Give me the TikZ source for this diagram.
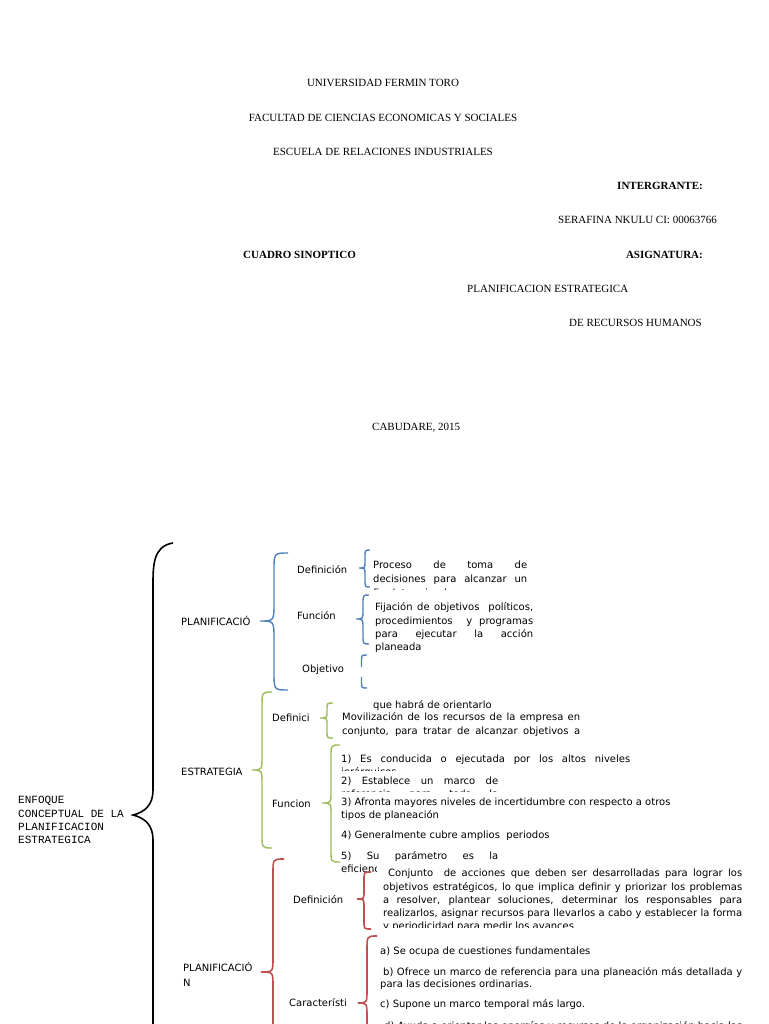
\documentclass[tikz,border=0pt]{standalone}
\usepackage{fontspec}
\setmainfont{Liberation Serif}
\newfontfamily\dvfont{DejaVu Sans}
\newfontfamily\monofont{Liberation Mono}
\definecolor{bblue}{HTML}{4F81BD}
\definecolor{ggreen}{HTML}{9BBB59}
\definecolor{rred}{HTML}{C0504D}
\newcommand\jline[2]{\makebox[#1pt][s]{#2}}
% #1 style, #2 x, #3 top, #4 tipx, #5 tipy, #6 bottom, #7 hook dx, #8 hook dy
\newcommand\mybrace[8]{\draw[#1] ({#2+#7},#3) .. controls (#2,#3) .. (#2,{#3+#8}) -- (#2,{#5-#8}) .. controls (#2,#5) .. (#4,#5) .. controls (#2,#5) .. (#2,{#5+#8}) -- (#2,{#6-#8}) .. controls (#2,#6) .. ({#2+#7},#6);}
\tikzset{
  hdr/.style={inner sep=0pt, font=\fontsize{11}{13}\selectfont, text height=7.5pt, text depth=0pt},
  hdrb/.style={hdr, font=\fontsize{11}{13}\selectfont\bfseries},
  mono/.style={inner sep=0pt, anchor=west, font=\monofont\fontsize{11}{13}\selectfont, text height=7.5pt, text depth=0pt},
  txt/.style={inner sep=0pt, anchor=west, font=\dvfont\fontsize{10}{13}\selectfont, text height=8pt, text depth=0pt},
  bl/.style={draw=bblue, line width=1.4pt},
  gr/.style={draw=ggreen, line width=1.4pt},
  rd/.style={draw=rred, line width=1.6pt},
  bk/.style={draw=black, line width=1.6pt}
}
\begin{document}
\begin{tikzpicture}[x=1pt,y=-1pt]
\useasboundingbox (0,0) rectangle (768,1024);
\clip (0,0) rectangle (768,1024);
\fill[white] (0,0) rectangle (768,1024);
% header
\node[hdr] (uni) at (383,83) {UNIVERSIDAD FERMIN TORO};
\node[hdr] (fac) at (383,118) {FACULTAD DE CIENCIAS ECONOMICAS Y SOCIALES};
\node[hdr] (esc) at (383,152) {ESCUELA DE RELACIONES INDUSTRIALES};
\node[hdrb,anchor=east] (int) at (703,186) {INTERGRANTE:};
\node[hdr,anchor=east] (ser) at (717,220) {SERAFINA NKULU CI: 00063766};
\node[hdrb,anchor=west] (cua) at (243,255) {CUADRO SINOPTICO};
\node[hdrb,anchor=east] (asi) at (703,255) {ASIGNATURA:};
\node[hdr,anchor=west] (pla) at (467,289) {PLANIFICACION ESTRATEGICA};
\node[hdr,anchor=east] (rec) at (702,323) {DE RECURSOS HUMANOS};
\node[hdr,anchor=west] (cab) at (372,427) {CABUDARE, 2015};

% root
\node[mono] (enf1) at (18,800) {ENFOQUE};
\node[mono] (enf2) at (18,814) {CONCEPTUAL DE LA};
\node[mono] (enf3) at (18,827) {PLANIFICACION};
\node[mono] (enf4) at (18,840) {ESTRATEGICA};
\draw[bk] (173,543) .. controls (153,546) and (153,566) .. (153,585) -- (153,790)
  .. controls (153,805) and (145,812) .. (133,815)
  .. controls (145,818) and (153,825) .. (153,840) -- (153,1100);

% PLANIFICACIO (blue)
\node[txt] (p1) at (181,621) {PLANIFICACIÓ};
\mybrace{bl}{274}{553}{260}{621}{690}{14}{18}
\node[txt] (p1d) at (297,569) {Definición};
\node[txt] (p1f) at (297,615) {Función};
\node[txt] (p1o) at (302,668) {Objetivo};
\mybrace{bl}{365}{550}{359}{568}{587}{5}{7}
\node[txt] (p1d1) at (373,564) {\jline{154}{Proceso de toma de}};
\node[txt] (p1d2) at (373,578) {\jline{154}{decisiones para alcanzar un}};
\begin{scope}
\clip (370,584) rectangle (540,589.5);
\node[txt] (p1d3) at (373,592) {fin determinado};
\end{scope}
\mybrace{bl}{363}{595}{356}{619}{644}{6}{9}
\node[txt] (p1f1) at (375,606) {\jline{158}{Fijación de objetivos\ \ políticos,}};
\node[txt] (p1f2) at (375,620) {\jline{158}{procedimientos\ \ y programas}};
\node[txt] (p1f3) at (375,633) {\jline{158}{para ejecutar la acción}};
\node[txt] (p1f4) at (375,646) {planeada};
\draw[bl] (367,655) .. controls (361.5,655) .. (361.5,661) -- (361.5,667);
\draw[bl] (361.5,677) -- (361.5,682) .. controls (361.5,688) .. (367,688);
\node[txt] (p1o1) at (373,704) {que habrá de orientarlo};

% ESTRATEGIA (green)
\node[txt] (es) at (181,771) {ESTRATEGIA};
\mybrace{gr}{262}{692}{252}{770}{848}{10}{14}
\node[txt] (esd) at (272,717) {Definici};
\node[txt] (esf) at (272,803) {Funcion};
\mybrace{gr}{327}{703}{320}{718}{738}{6}{7}
\node[txt] (esd1) at (342,716) {\jline{238}{Movilización de los recursos de la empresa en}};
\node[txt] (esd2) at (342,730) {\jline{238}{conjunto, para tratar de alcanzar objetivos a}};
\mybrace{gr}{331}{745}{322}{803}{862}{9}{12}
\node[txt] (esf1) at (341,758) {\jline{289}{1) Es conducida o ejecutada por los altos niveles}};
\begin{scope}
\clip (338,764) rectangle (640,770.5);
\node[txt] (esf1b) at (341,771.5) {jerárquicos};
\end{scope}
\node[txt] (esf2) at (341,780) {\jline{157}{2) Establece un marco de}};
\begin{scope}
\clip (338,786) rectangle (640,791);
\node[txt] (esf2b) at (341,793) {\jline{157}{referencia para toda la}};
\end{scope}
\node[txt] (esf3) at (341,801) {3) Afronta mayores niveles de incertidumbre con respecto a otros};
\node[txt] (esf3b) at (341,814) {tipos de planeación};
\node[txt] (esf4) at (341,834) {4) Generalmente cubre amplios\ \ periodos};
\node[txt] (esf5) at (341,855) {\jline{157}{5) Su parámetro es la}};
\begin{scope}
\clip (338,861) rectangle (376,872);
\node[txt] (esf5b) at (341,868) {eficiencia};
\end{scope}

% PLANIFICACION (red)
\node[txt] (p2a) at (183,967) {PLANIFICACIÓ};
\node[txt] (p2b) at (183,982) {N};
\mybrace{rd}{273}{859}{261}{972}{1100}{11}{14}
\node[txt] (p2d) at (293,899) {Definición};
\mybrace{rd}{364}{872}{357}{899}{929}{7}{8}
\node[txt] (p2d1) at (388,872) {\jline{354}{Conjunto\ \ de acciones que deben ser desarrolladas para lograr los}};
\node[txt] (p2d2) at (383,886) {\jline{359}{objetivos estratégicos, lo que implica definir y priorizar los problemas}};
\node[txt] (p2d3) at (383,899) {\jline{359}{a resolver, plantear soluciones, determinar los responsables para}};
\node[txt] (p2d4) at (383,912) {\jline{359}{realizarlos, asignar recursos para llevarlos a cabo y establecer la forma}};
\begin{scope}
\clip (380,918) rectangle (750,927);
\node[txt] (p2d5) at (383,925.5) {y periodicidad para medir los avances};
\end{scope}
\node[txt] (p2c) at (289,1002) {Característi};
\mybrace{rd}{367}{936}{358}{1003}{1100}{10}{14}
\node[txt] (p2c1) at (380,950) {a) Se ocupa de cuestiones fundamentales};
\node[txt] (p2c2) at (383,971) {\jline{359}{b) Ofrece un marco de referencia para una planeación más detallada y}};
\node[txt] (p2c2b) at (380,983) {para las decisiones ordinarias.};
\node[txt] (p2c3) at (380,1003) {c) Supone un marco temporal más largo.};
\node[txt] (p2c4) at (384,1025) {\jline{358}{d) Ayuda a orientar las energías y recursos de la organización hacia las}};
\end{tikzpicture}
\end{document}
